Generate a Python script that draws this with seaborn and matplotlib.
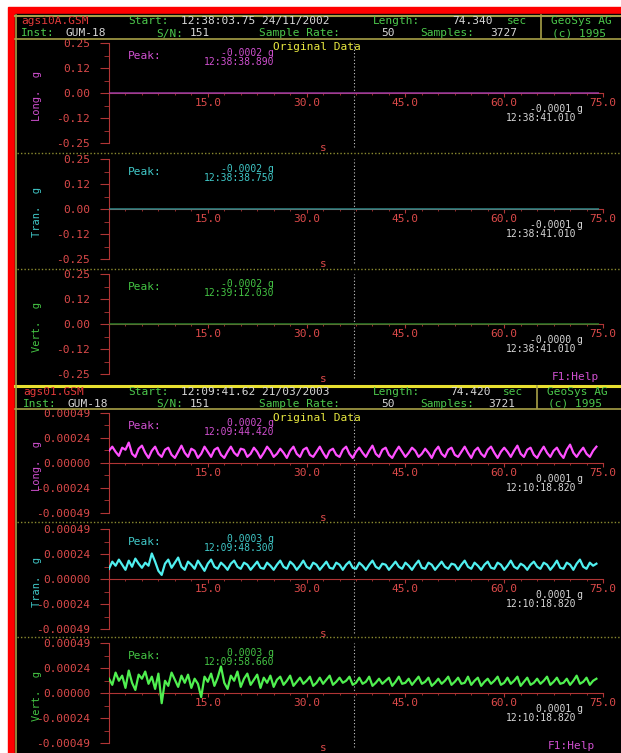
import numpy as np
import pandas as pd
import seaborn as sns
import matplotlib
matplotlib.use('Agg')
import matplotlib.pyplot as plt
from matplotlib.lines import Line2D
from matplotlib.patches import Rectangle
from matplotlib.ticker import MultipleLocator

# === 1. Data ===
channels = ['Long.', 'Tran.', 'Vert.']

# screen 1: 24/11/2002, traces are flat at ~0 g
top_t = [0, 5, 10, 15, 20, 25, 30, 35, 40, 45, 50, 55, 60, 65, 70, 74.3]
top_long = [0.0, -0.0001, 0.0, -0.0001, 0.0, 0.0, -0.0001, -0.0002, -0.0001, 0.0, -0.0001, 0.0, -0.0001, 0.0, -0.0001, 0.0]
top_tran = [0.0, 0.0, -0.0001, 0.0, -0.0001, 0.0, 0.0, -0.0002, -0.0001, 0.0, 0.0, -0.0001, 0.0, -0.0001, 0.0, 0.0]
top_vert = [0.0, -0.0001, 0.0, 0.0, -0.0001, 0.0, -0.0001, 0.0, 0.0, -0.0001, 0.0, 0.0, -0.0001, -0.0002, 0.0, 0.0]

# screen 2: 21/03/2003, samples every 0.5 s, values in 1e-5 g
bot_dt = 0.5
bot_long = [
    12, 16, 11, 7, 15, 13, 20, 9, 6, 14, 17, 10,
    5, 12, 16, 9, 6, 13, 15, 8, 5, 11, 17, 10,
    6, 14, 12, 5, 9, 16, 11, 6, 13, 15, 8, 5,
    11, 16, 10, 7, 14, 13, 6, 9, 15, 11, 5, 10,
    16, 12, 6, 9, 14, 10, 5, 12, 16, 9, 6, 13,
    15, 8, 6, 11, 16, 10, 5, 12, 14, 8, 6, 13,
    16, 9, 5, 11, 15, 10, 6, 12, 17, 9, 6, 13,
    15, 8, 5, 11, 16, 11, 6, 10, 15, 12, 6, 9,
    14, 10, 5, 12, 16, 9, 6, 13, 15, 8, 6, 11,
    16, 10, 5, 12, 15, 9, 6, 13, 16, 10, 5, 11,
    15, 11, 6, 12, 17, 9, 6, 13, 15, 8, 5, 11,
    16, 10, 6, 12, 15, 9, 5, 13, 18, 10, 6, 11,
    15, 9, 6, 12, 16]
bot_tran = [
    10, 17, 13, 19, 14, 9, 18, 12, 20, 15, 11, 16,
    13, 25, 17, 8, 4, 15, 19, 11, 16, 21, 12, 9,
    17, 14, 10, 18, 13, 8, 15, 19, 12, 10, 16, 13,
    9, 15, 18, 12, 10, 16, 14, 9, 13, 17, 11, 10,
    16, 13, 9, 14, 18, 12, 10, 17, 14, 9, 13, 18,
    12, 10, 16, 14, 9, 13, 17, 11, 10, 16, 14, 9,
    14, 17, 11, 10, 16, 13, 9, 14, 18, 12, 10, 15,
    14, 9, 13, 17, 12, 10, 16, 13, 9, 14, 18, 11,
    10, 16, 14, 9, 13, 17, 12, 10, 15, 14, 9, 14,
    18, 12, 10, 16, 13, 9, 14, 17, 11, 10, 16, 14,
    9, 13, 18, 12, 10, 15, 13, 9, 14, 17, 12, 10,
    16, 14, 9, 13, 18, 11, 10, 16, 14, 9, 15, 19,
    12, 10, 16, 13, 15]
bot_vert = [
    14, 8, 20, 12, 17, 5, 22, 10, 3, 18, 14, 21,
    9, 16, 4, 19, -10, 12, 7, 20, 13, 6, 17, 10,
    18, 5, 14, 9, -4, 16, 11, 19, 7, 15, 26, 10,
    4, 17, 12, 21, 6, 14, 19, 8, 13, 18, 5, 15,
    10, 17, 6, 13, 16, 8, 12, 17, 7, 11, 15, 9,
    12, 16, 7, 10, 15, 9, 13, 17, 8, 11, 15, 10,
    12, 16, 8, 10, 15, 9, 11, 16, 7, 10, 14, 9,
    12, 15, 7, 11, 16, 9, 10, 14, 8, 12, 16, 9,
    11, 15, 7, 10, 14, 9, 12, 16, 8, 11, 15, 9,
    10, 16, 8, 12, 15, 7, 11, 14, 9, 12, 16, 8,
    10, 15, 9, 12, 16, 7, 11, 15, 8, 10, 14, 9,
    12, 16, 8, 11, 15, 9, 10, 14, 8, 12, 17, 9,
    11, 15, 8, 12, 14]

top_yticks = ['0.25', '0.12', '0.00', '-0.12', '-0.25']
bot_yticks = ['0.00049', '0.00024', '0.00000', '-0.00024', '-0.00049']
xtick_vals = [15, 30, 45, 60, 75]

top_header = ['agsi0A.GSM', '12:38:03.75 24/11/2002', '74.340', '3727']
bot_header = ['ags01.GSM', '12:09:41.62 21/03/2003', '74.420', '3721']

top_peak_vals = ['-0.0002 g', '-0.0002 g', '-0.0002 g']
top_peak_times = ['12:38:38.890', '12:38:38.750', '12:39:12.030']
top_cur_vals = ['-0.0001 g', '-0.0001 g', '-0.0000 g']
top_cur_times = ['12:38:41.010', '12:38:41.010', '12:38:41.010']
bot_peak_vals = ['0.0002 g', '0.0003 g', '0.0003 g']
bot_peak_times = ['12:09:44.420', '12:09:48.300', '12:09:58.660']
bot_cur_vals = ['0.0001 g', '0.0001 g', '0.0001 g']
bot_cur_times = ['12:10:18.820', '12:10:18.820', '12:10:18.820']
top_cursor = 37.26
bot_cursor = 37.20

# === 2. Style ===
W, H = 621, 753
FS = 8
plt.rcParams['font.family'] = ['DejaVu Sans Mono']

AXIS_RED = '#b03535'
LABEL_RED = '#dc4a4a'
FILE_RED = '#e23a3a'
HDR_GREEN = '#4cc84c'
WHITE_TXT = '#d8d8d8'
YELLOW = '#e8e840'
FRAME = '#a8a048'
DOT_OLIVE = '#8c8c30'
text_cols = ['#d050d0', '#40c8c8', '#44c444']
flat_cols = ['#a040b0', '#309898', '#2e8a2e']
trace_cols = ['#ff50ff', '#50f0f0', '#50f050']

fig = plt.figure(figsize=(W / 100, H / 100), dpi=100, facecolor='white')


def fx(x):
    return x / W


def fy(y):
    return 1 - y / H


def ftext(x, y, s, color, ha='left', size=FS, **kw):
    fig.text(fx(x), fy(y), s, color=color, ha=ha, va='center', fontsize=size, **kw)


def hline(y, x0, x1, color, lw, ls='-'):
    fig.add_artist(Line2D([fx(x0), fx(x1)], [fy(y), fy(y)], color=color, lw=lw, ls=ls, zorder=1))


def vline(x, y0, y1, color, lw):
    fig.add_artist(Line2D([fx(x), fx(x)], [fy(y0), fy(y1)], color=color, lw=lw, zorder=1))


# background: red frame, black screen
fig.add_artist(Rectangle((fx(8), 0), 1 - fx(8), fy(7), color='#ff0000', zorder=-2))
fig.add_artist(Rectangle((fx(15), 0), 1 - fx(15), fy(14), color='black', zorder=-1))

# frame lines
hline(15.5, 15, 621, FRAME, 1.5)
hline(38.5, 15, 621, FRAME, 1.2)
vline(541, 15, 38, FRAME, 1.2)
vline(16, 15, 385, FRAME, 1.2)
hline(385.5, 15, 621, '#e8e030', 2.2)
hline(408.5, 15, 621, FRAME, 1.2)
vline(537, 386, 408, FRAME, 1.2)
vline(16, 386, 753, FRAME, 1.2)
for yy in [153, 269, 522, 637]:
    hline(yy, 17, 621, DOT_OLIVE, 1.0, ls=(0, (1, 1.5)))


def header(y1, y2, info, shift):
    ftext(21 + shift, y1, info[0], FILE_RED)
    ftext(128, y1, 'Start:', HDR_GREEN)
    ftext(181, y1, info[1], WHITE_TXT)
    ftext(373, y1, 'Length:', HDR_GREEN)
    ftext(452 - shift, y1, info[2], WHITE_TXT)
    ftext(507 - 2 * shift, y1, 'sec', HDR_GREEN)
    ftext(551 - 2 * shift, y1, 'GeoSys AG', HDR_GREEN)
    ftext(21 + shift, y2, 'Inst:', HDR_GREEN)
    ftext(66 + shift, y2, 'GUM-18', WHITE_TXT)
    ftext(156, y2, 'S/N:', HDR_GREEN)
    ftext(190, y2, '151', WHITE_TXT)
    ftext(259, y2, 'Sample Rate:', HDR_GREEN)
    ftext(381, y2, '50', WHITE_TXT)
    ftext(420, y2, 'Samples:', HDR_GREEN)
    ftext(490 - shift, y2, info[3], WHITE_TXT)
    ftext(552 - 2 * shift, y2, '(c) 1995', HDR_GREEN)


header(21, 33.5, top_header, 0)
header(392, 404, bot_header, 2)


def panel(y0, t, vals, lim, ylabels, i, flat, peak, cur, cursor):
    ax = fig.add_axes([fx(109), fy(y0 + 50), (603 - 109) / W, 100 / H])
    ax.set_facecolor('none')
    df = pd.DataFrame({'t': t, 'g': vals})
    col = flat_cols[i] if flat else trace_cols[i]
    sns.lineplot(data=df, x='t', y='g', ax=ax, color=col,
                 linewidth=1.0 if flat else 1.6, zorder=3)
    ax.set_xlim(0, 75)
    ax.set_ylim(-lim, lim)
    ax.set_xlabel('')
    ax.set_ylabel('')
    for s in ['top', 'right']:
        ax.spines[s].set_visible(False)
    ax.spines['left'].set_color(AXIS_RED)
    ax.spines['bottom'].set_color(AXIS_RED)
    ax.spines['bottom'].set_position(('data', 0))
    ax.set_xticks(xtick_vals, [f'{v:.1f}' for v in xtick_vals])
    ax.xaxis.set_minor_locator(MultipleLocator(2.5))
    ax.set_yticks([lim, lim / 2, 0, -lim / 2, -lim], ylabels)
    ax.set_yticks([lim * 0.75, lim * 0.25, -lim * 0.25, -lim * 0.75], minor=True)
    ax.tick_params(axis='x', which='major', direction='out', length=3, color=AXIS_RED,
                   labelcolor=LABEL_RED, labelsize=FS, pad=0.5)
    ax.tick_params(axis='x', which='minor', direction='out', length=1.5, color=AXIS_RED)
    ax.tick_params(axis='y', which='major', direction='out', length=6.5, color=AXIS_RED,
                   labelcolor=LABEL_RED, labelsize=FS, pad=7)
    ax.tick_params(axis='y', which='minor', direction='out', length=3.5, color=AXIS_RED)
    ax.axvline(cursor, color='#c8c8c8', ls=(0, (1, 2)), lw=0.8, ymin=-0.04, ymax=1.0,
               clip_on=False, zorder=1)

    ftext(37, y0 + 3, channels[i] + '  g', text_cols[i], ha='center', rotation=90, size=7.5)
    ftext(128, y0 - 37, 'Peak:', text_cols[i])
    ftext(274, y0 - 40, peak[0], text_cols[i], ha='right', size=7)
    ftext(274, y0 - 31, peak[1], text_cols[i], ha='right', size=7)
    ftext(583, y0 + 16, cur[0], WHITE_TXT, ha='right', size=7)
    ftext(576, y0 + 25, cur[1], WHITE_TXT, ha='right', size=7)
    ftext(323, y0 + 55, 's', LABEL_RED, ha='center')
    return ax


top_vals = [top_long, top_tran, top_vert]
bot_vals = [bot_long, bot_tran, bot_vert]
bot_t = np.arange(len(bot_long)) * bot_dt

for i, y0 in enumerate([93, 209, 324]):
    panel(y0, top_t, top_vals[i], 0.25, top_yticks, i, True,
          (top_peak_vals[i], top_peak_times[i]), (top_cur_vals[i], top_cur_times[i]), top_cursor)

for i, y0 in enumerate([463, 579, 693]):
    vals = np.array(bot_vals[i]) * 1e-5
    panel(y0, bot_t, vals, 0.00049, bot_yticks, i, False,
          (bot_peak_vals[i], bot_peak_times[i]), (bot_cur_vals[i], bot_cur_times[i]), bot_cursor)

ftext(273, 47, 'Original Data', YELLOW)
ftext(273, 418, 'Original Data', YELLOW)
ftext(552, 377, 'F1:Help', text_cols[0])
ftext(548, 746, 'F1:Help', text_cols[0])

fig.savefig('out.png', dpi=100, facecolor='white')
